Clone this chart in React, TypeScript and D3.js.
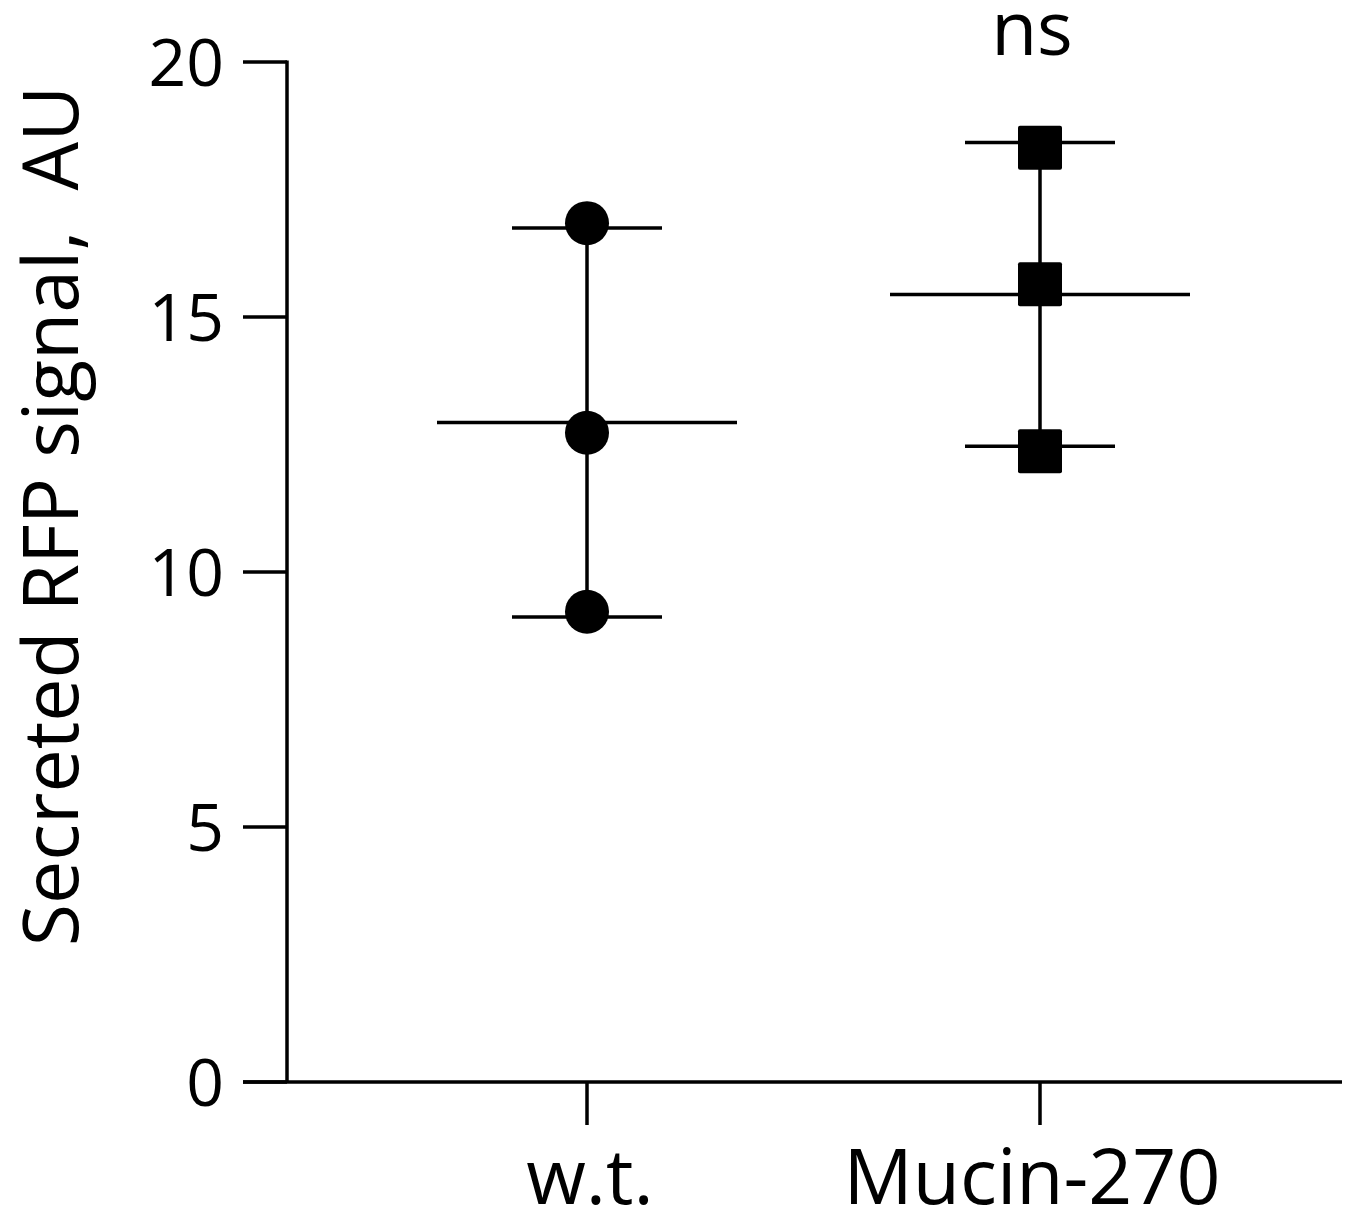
import React from "react";
import * as d3 from "d3";

const categories = ["w.t.", "Mucin-270"];
const wtValues = [16.84, 12.73, 9.22];
const mucinValues = [18.32, 15.64, 12.37];
const yTicks = [0, 5, 10, 15, 20];
const yLabel = "Secreted RFP signal,  AU";
const sigLabel = "ns";

const W = 1353;
const H = 1214;

export default function App() {
  const y = d3.scaleLinear().domain([0, 20]).range([1082, 62]);
  const x = d3.scalePoint<string>().domain(categories).range([587, 1040]);
  const font = "'Open Sans', 'Noto Sans', sans-serif";
  const groups = [
    { name: categories[0], values: wtValues, shape: "circle" },
    { name: categories[1], values: mucinValues, shape: "square" },
  ];
  const labelShift: Record<string, number> = { "w.t.": 3, "Mucin-270": -8 };
  const sw = 3.5;
  const axisLeft = 287;
  return (
    <svg
      width={W}
      height={H}
      style={{ position: "absolute", left: 0, top: 0, background: "#fff" }}
      fontFamily={font}
    >
      <rect width={W} height={H} fill="#fff" />
      {/* Y axis */}
      <line x1={axisLeft} x2={axisLeft} y1={y(20) - 1.5} y2={y(0)} stroke="#000" strokeWidth={sw} />
      {yTicks.map((t) => (
        <g key={t}>
          <line x1={243} x2={axisLeft} y1={y(t)} y2={y(t)} stroke="#000" strokeWidth={sw} />
          <text x={224} y={y(t) + 24} textAnchor="end" fontSize={66} fill="#000">
            {t}
          </text>
        </g>
      ))}
      {/* X axis */}
      <line x1={243} x2={1342} y1={y(0)} y2={y(0)} stroke="#000" strokeWidth={sw} />
      {categories.map((c) => (
        <g key={c}>
          <line x1={x(c)} x2={x(c)} y1={y(0)} y2={1125} stroke="#000" strokeWidth={sw} />
          <text x={(x(c) as number) + labelShift[c]} y={1204} textAnchor="middle" fontSize={77} fill="#000">
            {c}
          </text>
        </g>
      ))}
      {/* Y label */}
      <text
        transform={`translate(78, 516) rotate(-90)`}
        textAnchor="middle"
        fontSize={77}
        fill="#000"
        style={{ whiteSpace: "pre" }}
      >
        {yLabel}
      </text>
      {/* Groups */}
      {groups.map((g) => {
        const cx = x(g.name) as number;
        const m = d3.mean(g.values) as number;
        const sd = d3.deviation(g.values) as number;
        return (
          <g key={g.name}>
            <line x1={cx} x2={cx} y1={y(m + sd)} y2={y(m - sd)} stroke="#000" strokeWidth={sw} />
            <line x1={cx - 150} x2={cx + 150} y1={y(m)} y2={y(m)} stroke="#000" strokeWidth={sw} />
            <line x1={cx - 75} x2={cx + 75} y1={y(m + sd)} y2={y(m + sd)} stroke="#000" strokeWidth={sw} />
            <line x1={cx - 75} x2={cx + 75} y1={y(m - sd)} y2={y(m - sd)} stroke="#000" strokeWidth={sw} />
            {g.values.map((v, i) =>
              g.shape === "circle" ? (
                <circle key={i} cx={cx} cy={y(v)} r={22} fill="#000" />
              ) : (
                <rect key={i} x={cx - 22} y={y(v) - 22} width={44} height={44} rx={2} fill="#000" />
              )
            )}
          </g>
        );
      })}
      <text x={1032} y={55} textAnchor="middle" fontSize={75} fill="#000">
        {sigLabel}
      </text>
    </svg>
  );
}
